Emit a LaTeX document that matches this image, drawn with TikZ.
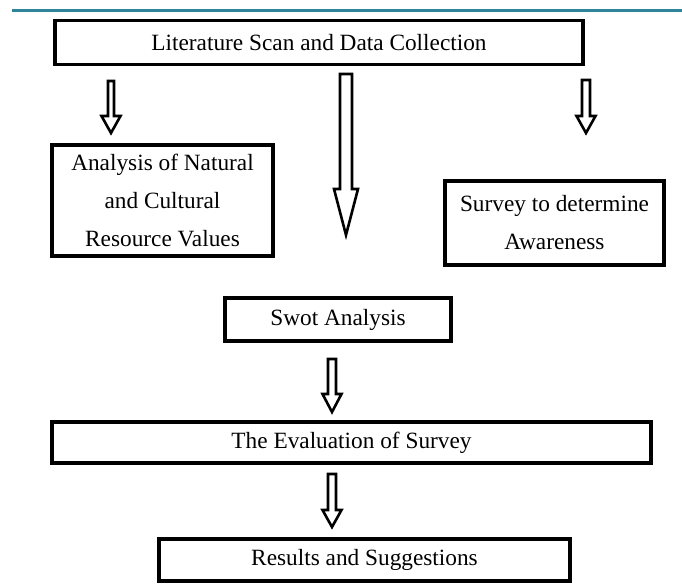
\documentclass[tikz,border=0pt]{standalone}
\usepackage{fontspec}
\setmainfont{Liberation Serif}
\usetikzlibrary{calc}
\definecolor{rulecol}{RGB}{46,132,152}
% hollow block arrow: from, to, shaft half width, head half width, head length
\newcommand{\hollowarrow}[5]{%
 \draw[arr] let \p1=(#1), \p2=(#2) in
  (\x1-#3,\y1) -- (\x1+#3,\y1) -- (\x1+#3,\y2+#5) -- (\x1+#4,\y2+#5)
  -- (\x1,\y2) -- (\x1-#4,\y2+#5) -- (\x1-#3,\y2+#5) -- cycle;}
\begin{document}
\begin{tikzpicture}[x=1pt,y=-1pt,
 box/.style={draw,line width=3.6pt,inner sep=0pt,align=center,
  font=\fontsize{23.3}{38}\selectfont},
 arr/.style={draw,fill=white,line width=2.6pt,line join=miter}]
 \useasboundingbox (0,0) rectangle (682,588);
 \draw[rulecol,line width=3pt] (12,11)--(682,11);
 % boxes
 \node[box,minimum width=528,minimum height=44] (scan) at (319,42.5) {Literature Scan and Data Collection};
 \node[box,minimum width=221,minimum height=111] (analysis) at (162.5,200.5) {Analysis of Natural\\and Cultural\\Resource Values};
 \node[box,minimum width=219,minimum height=84] (survey) at (554.5,223) {Survey to determine\\Awareness};
 \node[box,minimum width=226,minimum height=43] (swot) at (338,319.5) {Swot Analysis};
 \node[box,minimum width=599,minimum height=41] (eval) at (351.5,442.5) {The Evaluation of Survey};
 \node[box,minimum width=411,minimum height=42] (results) at (364.5,560) {Results and Suggestions};
 % arrow ends
 \coordinate (l1) at (111,81);  \coordinate (l2) at (111,133);
 \coordinate (m1) at (346,74);  \coordinate (m2) at (346,235);
 \coordinate (r1) at (586,80);  \coordinate (r2) at (586,133);
 \coordinate (s1) at (332,359); \coordinate (s2) at (332,412);
 \coordinate (e1) at (332,474); \coordinate (e2) at (332,527);
 \hollowarrow{l1}{l2}{3pt}{9.5pt}{17pt}
 \hollowarrow{m1}{m2}{6pt}{12pt}{46pt}
 \hollowarrow{r1}{r2}{4pt}{9.5pt}{17pt}
 \hollowarrow{s1}{s2}{4pt}{9.5pt}{18pt}
 \hollowarrow{e1}{e2}{4pt}{9.5pt}{17pt}
\end{tikzpicture}
\end{document}
